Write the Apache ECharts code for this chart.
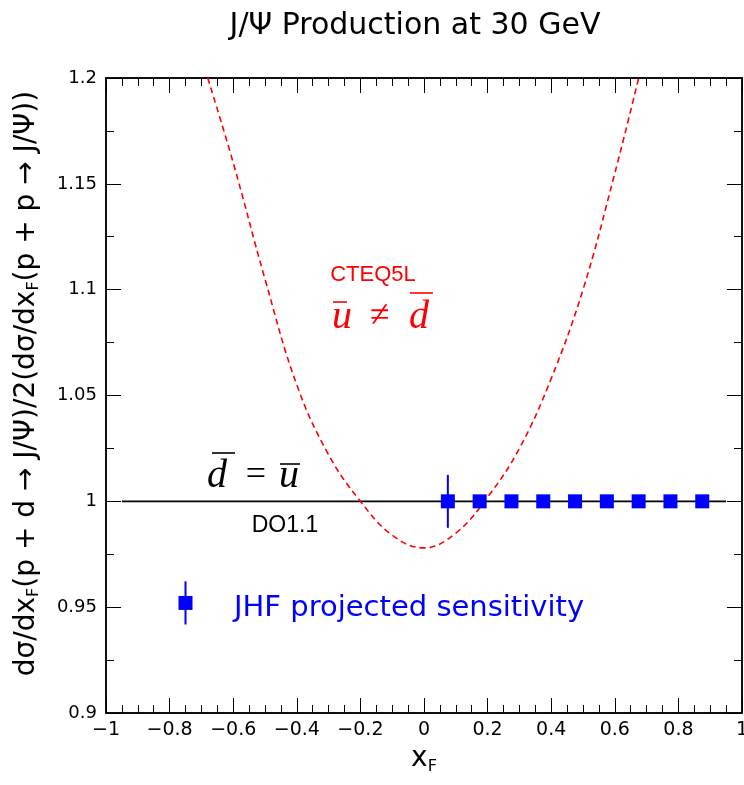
<!DOCTYPE html>
<html><head><meta charset="utf-8">
<script src="https://cdn.jsdelivr.net/npm/echarts@6/dist/echarts.min.js"></script>
<style>html,body{margin:0;padding:0;background:#fff;overflow:hidden}#c{width:744px;height:785px}</style>
</head><body><div id="c"></div>
<script>
// Theory curve CTEQ5L (ubar != dbar)
const curveX = [-0.68, -0.6, -0.5, -0.4, -0.3, -0.2, -0.1, 0, 0.1, 0.2, 0.3, 0.4, 0.5, 0.6, 0.68];
const curveY = [1.2, 1.16, 1.105, 1.055, 1.022, 1.0, 0.984, 0.978, 0.985, 1.002, 1.025, 1.058, 1.1, 1.155, 1.203];
// D01.1 (dbar = ubar) reference line
const refX = [-0.95, 0.95];
const refY = [1, 1];
// JHF projected sensitivity points
const sensX = [0.075, 0.175, 0.275, 0.375, 0.475, 0.575, 0.675, 0.775, 0.875];
const sensY = [1, 1, 1, 1, 1, 1, 1, 1, 1];
const sensErr = [0.0125, 0.003, 0.003, 0.003, 0.003, 0.003, 0.003, 0.003, 0.003];
// legend marker
const legX = [-0.75];
const legY = [0.952];
const legErr = [0.0102];
// axes
const xTicks = [-1, -0.8, -0.6, -0.4, -0.2, 0, 0.2, 0.4, 0.6, 0.8, 1];
const yTicks = [0.9, 0.95, 1, 1.05, 1.1, 1.15, 1.2];

const FONT = 'DejaVu Sans';
const chart = echarts.init(document.getElementById('c'));

function fmtX(v) {
  const r = Math.round(v * 10) / 10;
  return String(r).replace('-', '\u2212');
}
function errItem(params, api) {
  const x = api.value(0), y = api.value(1), e = api.value(2);
  const p1 = api.coord([x, y + e]);
  const p2 = api.coord([x, y - e]);
  return { type: 'line', shape: { x1: p1[0], y1: p1[1], x2: p2[0], y2: p2[1] },
           style: { stroke: '#0000ff', lineWidth: 2 } };
}
const grid = { left: 106, right: 2, top: 78, bottom: 72, show: true, borderColor: '#000', borderWidth: 1.5,
  containLabel: false, outerBoundsMode: 'none' };
const xBase = {
  type: 'value', min: -1, max: 1, interval: 0.2,
  axisLine: { show: true, onZero: false, lineStyle: { color: '#000', width: 1.5 } },
  axisTick: { show: true, inside: true, length: 15, lineStyle: { color: '#000', width: 1 } },
  minorTick: { show: true, splitNumber: 4, length: 8, lineStyle: { color: '#000', width: 1 } },
  splitLine: { show: false }
};
const yBase = {
  type: 'value', min: 0.9, max: 1.2, interval: 0.05,
  axisLine: { show: true, onZero: false, lineStyle: { color: '#000', width: 1.5 } },
  axisTick: { show: true, inside: true, length: 15, lineStyle: { color: '#000', width: 1 } },
  minorTick: { show: true, splitNumber: 2, length: 8, lineStyle: { color: '#000', width: 1 } },
  splitLine: { show: false }
};

const option = {
  animation: false,
  backgroundColor: '#fff',
  title: {
    text: 'J/\u03A8 Production at 30 GeV', left: 410, top: 6, textAlign: 'center',
    textStyle: { fontFamily: FONT, fontSize: 30, fontWeight: 'normal', color: '#000' }
  },
  grid: grid,
  xAxis: [
    Object.assign({}, xBase, {
      position: 'bottom',
      name: '{n|x}{s|F}', nameLocation: 'middle', nameGap: 27,
      nameTextStyle: { rich: {
        n: { fontFamily: FONT, fontSize: 28, color: '#000' },
        s: { fontFamily: FONT, fontSize: 16, color: '#000', padding: [15, 0, 0, 0] } } },
      axisLabel: { show: true, margin: 8, fontFamily: FONT, fontSize: 19, color: '#000',
        formatter: fmtX, showMinLabel: true, showMaxLabel: true }
    }),
    Object.assign({}, xBase, { position: 'top', axisLabel: { show: false } })
  ],
  yAxis: [
    Object.assign({}, yBase, {
      position: 'left',
      name: '{n|d\u03C3/dx}{s|F}{n|(p + d \u2192 J/\u03A8)/2(d\u03C3/dx}{s|F}{n|(p + p \u2192 J/\u03A8))}',
      nameLocation: 'middle', nameGap: 64, nameRotate: 90,
      nameTextStyle: { padding: [0, 0, 0, 24], rich: {
        n: { fontFamily: FONT, fontSize: 28, color: '#000' },
        s: { fontFamily: FONT, fontSize: 16, color: '#000', padding: [14, 0, 0, 0] } } },
      axisLabel: { show: true, margin: 9, fontFamily: FONT, fontSize: 18, color: '#000',
        formatter: v => String(Math.round(v * 100) / 100) }
    }),
    Object.assign({}, yBase, { position: 'right', axisLabel: { show: false } })
  ],
  series: [
    {
      type: 'line', name: 'CTEQ5L', data: curveX.map((x, i) => [x, curveY[i]]),
      smooth: 0.4, showSymbol: false, clip: true,
      lineStyle: { color: '#ff0000', width: 1.6, type: [6, 4] }, z: 3
    },
    {
      type: 'line', name: 'DO1.1', data: refX.map((x, i) => [x, refY[i]]),
      showSymbol: false, lineStyle: { color: '#000', width: 1.6 }, z: 2
    },
    {
      type: 'custom', name: 'err', renderItem: errItem,
      data: sensX.map((x, i) => [x, sensY[i], sensErr[i]]), z: 4
    },
    {
      type: 'scatter', name: 'JHF', symbol: 'rect', symbolSize: 14,
      data: sensX.map((x, i) => [x, sensY[i]]),
      itemStyle: { color: '#0000ff', opacity: 1 }, z: 5
    },
    {
      type: 'custom', name: 'legErr', renderItem: errItem,
      data: legX.map((x, i) => [x, legY[i], legErr[i]]), z: 4
    },
    {
      type: 'scatter', name: 'legMark', symbol: 'rect', symbolSize: 14,
      data: legX.map((x, i) => [x, legY[i]]),
      itemStyle: { color: '#0000ff', opacity: 1 }, z: 5
    }
  ],
  graphic: [
    { type: 'text', x: 373, y: 275, style: { text: 'CTEQ5L', fill: '#ff0000',
      font: '22px "Liberation Sans"', align: 'center', verticalAlign: 'middle' } },
    { type: 'text', x: 342, y: 317, style: { text: 'u', fill: '#ff0000', font: 'italic 40px "Liberation Serif"', align: 'center', verticalAlign: 'middle' } },
    { type: 'text', x: 380, y: 317, style: { text: '\u2260', fill: '#ff0000', font: '36px "Liberation Serif"', align: 'center', verticalAlign: 'middle' } },
    { type: 'text', x: 419, y: 317, style: { text: 'd', fill: '#ff0000', font: 'italic 40px "Liberation Serif"', align: 'center', verticalAlign: 'middle' } },
    { type: 'line', shape: { x1: 333, y1: 302, x2: 347, y2: 302 }, style: { stroke: '#ff0000', lineWidth: 1.6 } },
    { type: 'line', shape: { x1: 410, y1: 293, x2: 433, y2: 293 }, style: { stroke: '#ff0000', lineWidth: 1.6 } },

    { type: 'text', x: 217, y: 476, style: { text: 'd', fill: '#000', font: 'italic 40px "Liberation Serif"', align: 'center', verticalAlign: 'middle' } },
    { type: 'text', x: 256, y: 476, style: { text: '=', fill: '#000', font: '36px "Liberation Serif"', align: 'center', verticalAlign: 'middle' } },
    { type: 'text', x: 289, y: 476, style: { text: 'u', fill: '#000', font: 'italic 40px "Liberation Serif"', align: 'center', verticalAlign: 'middle' } },
    { type: 'line', shape: { x1: 212, y1: 453, x2: 235, y2: 453 }, style: { stroke: '#000', lineWidth: 1.6 } },
    { type: 'line', shape: { x1: 280, y1: 464, x2: 300, y2: 464 }, style: { stroke: '#000', lineWidth: 1.6 } },

    { type: 'text', x: 285, y: 526, style: { text: 'DO1.1', fill: '#000', font: '23px "Liberation Sans"', align: 'center', verticalAlign: 'middle' } },
    { type: 'text', x: 234, y: 608, style: { text: 'JHF projected sensitivity', fill: '#0000ff', font: '29px "DejaVu Sans"', align: 'left', verticalAlign: 'middle' } }
  ]
};
chart.setOption(option);
</script>
</body></html>
